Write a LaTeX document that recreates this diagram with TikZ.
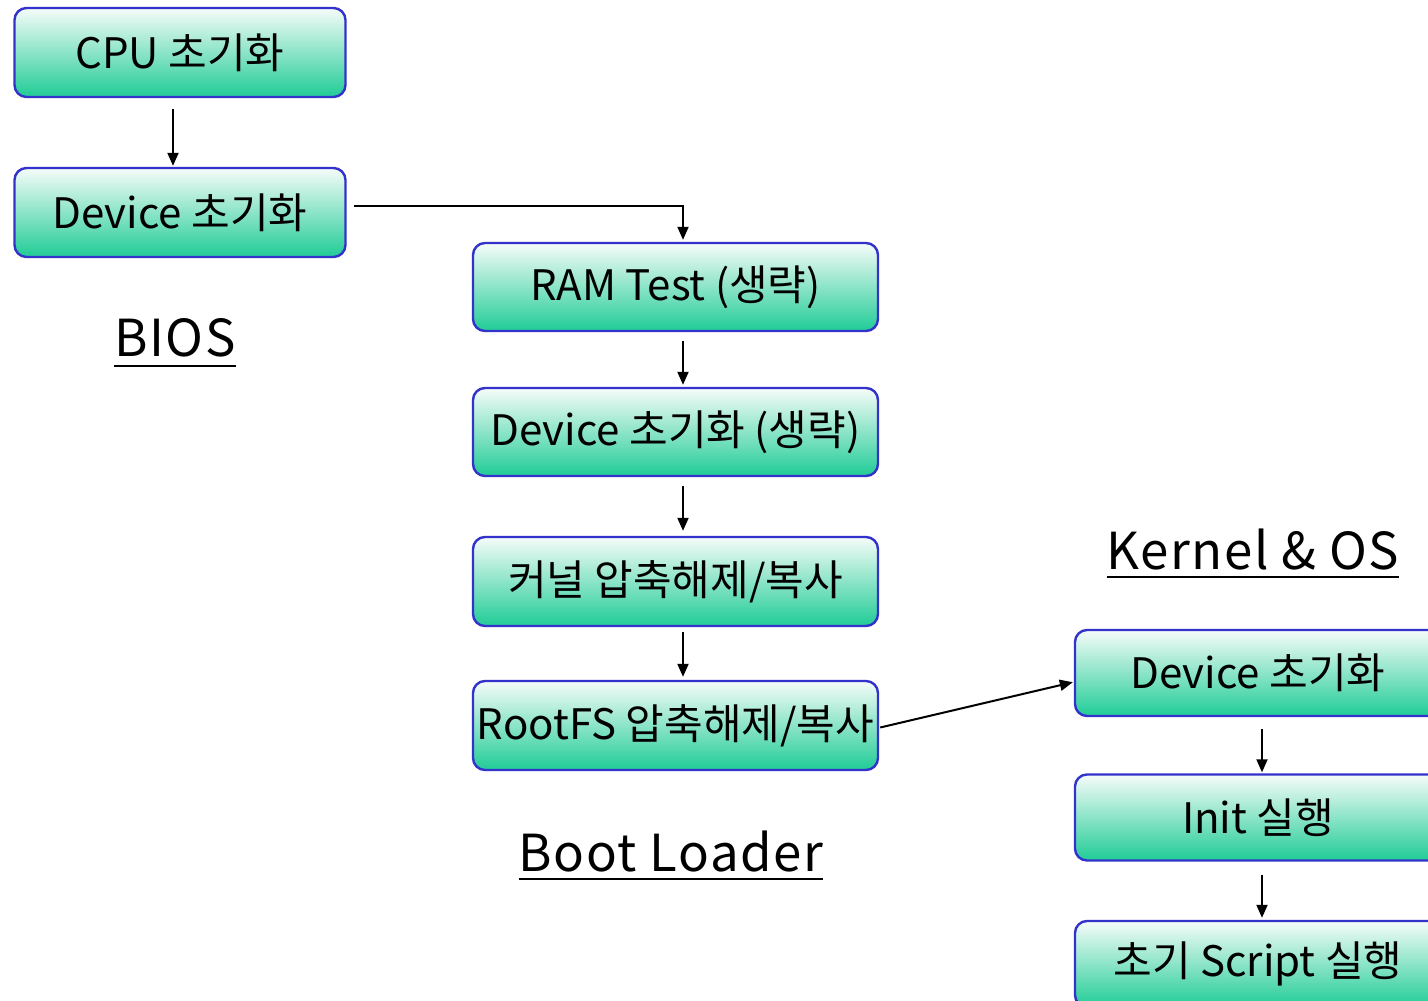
\documentclass[tikz,border=0pt]{standalone}
\usepackage{fontspec}
\setmainfont{Noto Sans CJK KR}
\newfontfamily\lblfont[LetterSpace=3]{Noto Sans CJK KR}
\usetikzlibrary{arrows.meta,calc}
\definecolor{boxblue}{RGB}{51,51,204}
\definecolor{boxtop}{RGB}{246,252,249}
\definecolor{boxmid}{RGB}{170,232,206}
\definecolor{boxbot}{RGB}{32,204,150}
\newcommand{\bt}[1]{\raisebox{-4pt}{#1}}
\tikzset{
  stepbox/.style={draw=boxblue, line width=2.4pt, rounded corners=12pt,
    top color=boxtop, middle color=boxmid, bottom color=boxbot,
    inner sep=0pt, font=\fontsize{42}{44}\selectfont},
  arr/.style={line width=2pt, -{Triangle[length=13pt,width=11pt]}},
  lbl/.style={inner sep=0pt, anchor=base, font=\lblfont\fontsize{51}{53}\selectfont},
  uline/.style={line width=2.4pt}
}
\begin{document}
\begin{tikzpicture}[x=1pt,y=-1pt]
\useasboundingbox (0,0) rectangle (1428,1001);
\begin{scope}
\clip (0,0) rectangle (1428,1001);
% BIOS
\node[stepbox, minimum width=331pt, minimum height=89pt] (cpu) at (180,52.5) {\bt{CPU 초기화}};
\node[stepbox, minimum width=331pt, minimum height=89pt] (dev1) at (180,212.5) {\bt{Device 초기화}};
% Boot loader
\node[stepbox, minimum width=405pt, minimum height=88pt] (ram) at (675.5,287) {\bt{RAM Test (생략)}};
\node[stepbox, minimum width=405pt, minimum height=88pt] (dev2) at (675.5,432) {\bt{Device 초기화 (생략)}};
\node[stepbox, minimum width=405pt, minimum height=89pt] (kern) at (675.5,581.5) {\bt{커널 압축해제/복사}};
\node[stepbox, minimum width=405pt, minimum height=89pt] (rootfs) at (675.5,725.5) {\bt{RootFS 압축해제/복사}};
% Kernel & OS
\node[stepbox, minimum width=366pt, minimum height=86pt] (kdev) at (1258,673) {\bt{Device 초기화}};
\node[stepbox, minimum width=366pt, minimum height=86pt] (init) at (1258,817.5) {\bt{Init 실행}};
\node[stepbox, minimum width=366pt, minimum height=86pt] (script) at (1258,964) {\bt{초기 Script 실행}};

% labels
\node[lbl] (bios) at (175,356) {BIOS};
\draw[uline] (bios.base west |- 0,366) -- (bios.base east |- 0,366);
\node[lbl] (boot) at (671,871) {Boot Loader};
\draw[uline] (boot.base west |- 0,879) -- (boot.base east |- 0,879);
\node[lbl] (kos) at (1253,569) {Kernel \& OS};
\draw[uline] (kos.base west |- 0,577) -- (kos.base east |- 0,577);

% connectors
\coordinate (xa) at (173,0);
\coordinate (xb) at (683,0);
\coordinate (xc) at (1262,0);
\draw[arr, shorten <=11pt, shorten >=1pt] (cpu.south -| xa) -- (dev1.north -| xa);
\draw[arr, shorten >=2pt] ([shift={(7,-7)}]dev1.east) -| (ram.north -| xb);
\draw[arr, shorten <=9pt, shorten >=2pt] (ram.south -| xb) -- (dev2.north -| xb);
\draw[arr, shorten <=9pt, shorten >=5pt] (dev2.south -| xb) -- (kern.north -| xb);
\draw[arr, shorten <=5pt, shorten >=3pt] (kern.south -| xb) -- (rootfs.north -| xb);
\draw[arr, shorten >=1pt] ([shift={(1,2)}]rootfs.east) -- ([shift={(0,9)}]kdev.west);
\draw[arr, shorten <=12pt, shorten >=1pt] (kdev.south -| xc) -- (init.north -| xc);
\draw[arr, shorten <=13pt, shorten >=2pt] (init.south -| xc) -- (script.north -| xc);
\end{scope}
\end{tikzpicture}
\end{document}
